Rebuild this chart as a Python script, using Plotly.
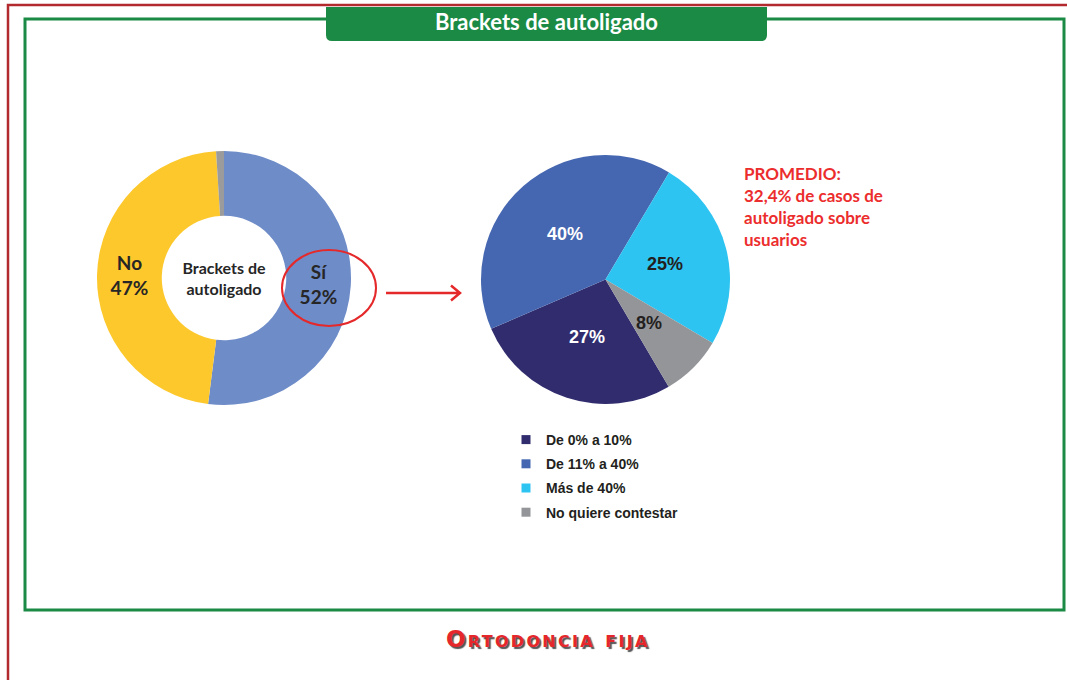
import math
import plotly.graph_objects as go

W, H = 1067, 680

# ---------------- data ----------------
donut_labels = ["Sí", "No", "NS/NC"]
donut_values = [52, 47, 1]
donut_colors = ["#6E8CC8", "#FDC82C", "#9B9B9B"]
donut_center_text = "Brackets de<br>autoligado"

pie_labels = ["De 0% a 10%", "De 11% a 40%", "Más de 40%", "No quiere contestar"]
pie_values = [27, 40, 25, 8]
pie_colors = ["#302C6E", "#4566B0", "#2EC4F2", "#939598"]
pie_text_colors = ["#FFFFFF", "#FFFFFF", "#231F20", "#231F20"]

title_text = "Brackets de autoligado"
note_lines = ["PROMEDIO:", "32,4% de casos de", "autoligado sobre", "usuarios"]
footer_text = "Ortodoncia fija"

# ---------------- layout geometry (pixels) ----------------
D_CX, D_CY, D_R = 224, 278, 127      # donut
P_CX, P_CY, P_R = 605.5, 279.5, 124.5  # pie
P_ROT = 149.5
RED = "#E5292B"
GREEN = "#1B8A44"


def dom(cx, cy, r):
    return dict(x=[(cx - r) / W, (cx + r) / W], y=[1 - (cy + r) / H, 1 - (cy - r) / H])


fig = go.Figure()

fig.add_trace(go.Pie(
    labels=donut_labels, values=donut_values, sort=False, direction="clockwise",
    rotation=0, hole=0.49, domain=dom(D_CX, D_CY, D_R),
    marker=dict(colors=donut_colors, line=dict(width=0)),
    texttemplate=["%{label}<br>%{value}%", "%{label}<br>%{value}%", ""],
    textposition="inside", insidetextorientation="horizontal",
    textfont=dict(family="Lato", size=19, color="#262626", weight="bold"),
    title=dict(text=donut_center_text, position="middle center",
               font=dict(family="Lato", size=16, color="#262626", weight="bold")),
    showlegend=False, hoverinfo="skip",
))

fig.add_trace(go.Pie(
    labels=pie_labels, values=pie_values, sort=False, direction="clockwise",
    rotation=P_ROT, domain=dom(P_CX, P_CY, P_R),
    marker=dict(colors=pie_colors, line=dict(width=0)),
    textinfo="none", showlegend=False, hoverinfo="skip",
))

# legend entries (one group per category so spacing can be set)
for lab, col in zip(pie_labels, pie_colors):
    fig.add_trace(go.Scatter(
        x=[None], y=[None], mode="markers", name=lab, legendgroup=lab,
        marker=dict(symbol="square", size=9, color=col), hoverinfo="skip",
    ))

annotations = []
# pie percentage labels, placed from the values
total = sum(pie_values)
start = P_ROT
for v, c in zip(pie_values, pie_text_colors):
    span = 360 * v / total
    mid = math.radians(start + span / 2)
    rl = 0.49 * P_R
    annotations.append(dict(
        x=P_CX + rl * math.sin(mid), y=P_CY - rl * math.cos(mid),
        xref="x", yref="y", text=f"{v}%", showarrow=False,
        font=dict(family="Liberation Sans", size=18, color=c, weight="bold"),
    ))
    start += span

annotations.append(dict(
    x=546, y=21, xref="x", yref="y", text=title_text, showarrow=False,
    font=dict(family="Lato", size=22, color="white", weight="bold"),
))
annotations.append(dict(
    x=742, y=206, xref="x", yref="y", xanchor="left", yanchor="middle", align="left",
    text="<br>".join(note_lines), showarrow=False,
    font=dict(family="Lato", size=17, color="#EC2D2D", weight="bold"),
))
annotations.append(dict(
    x=548, y=639, xref="x", yref="y",
    text="<span style='letter-spacing:2.3px'>" + footer_text + "</span>", showarrow=False,
    font=dict(family="DejaVu Sans", size=23, color="#E5262A", weight="bold",
              variant="small-caps", shadow="2px 2px 1px #555555"),
))

shapes = [
    dict(type="path", path="M 8 680 L 8 5 L 1067 5", xref="x", yref="y",
         line=dict(color="#B22A2E", width=2.5)),
    dict(type="rect", x0=25, y0=19, x1=1064, y1=610, xref="x", yref="y",
         line=dict(color=GREEN, width=3)),
    dict(type="path", xref="x", yref="y",
         path="M 326 7 L 767 7 L 767 35 Q 767 41 761 41 L 332 41 Q 326 41 326 35 Z",
         fillcolor=GREEN, line=dict(width=0)),
    dict(type="circle", x0=282, y0=250, x1=376, y1=326, xref="x", yref="y",
         line=dict(color=RED, width=2)),
    dict(type="path", xref="x", yref="y",
         path="M 386 293 L 459 293 M 451 285.5 L 460 293 L 451 300.5",
         line=dict(color=RED, width=2.5)),
]

fig.update_layout(
    width=W, height=H, margin=dict(l=0, r=0, t=0, b=0),
    paper_bgcolor="white", plot_bgcolor="rgba(0,0,0,0)",
    xaxis=dict(range=[0, W], visible=False, fixedrange=True),
    yaxis=dict(range=[H, 0], visible=False, fixedrange=True),
    shapes=shapes, annotations=annotations,
    showlegend=True,
    legend=dict(x=506 / W, y=1 - 424 / H, xanchor="left", yanchor="top",
                traceorder="grouped", tracegroupgap=3, bgcolor="rgba(0,0,0,0)",
                font=dict(family="Liberation Sans", size=14, color="#231F20", weight="bold")),
)

fig.write_html(
    "out.html",
    config={"displayModeBar": False, "staticPlot": True},
    post_script="document.body.style.margin='0';document.body.style.overflow='hidden';",
)
